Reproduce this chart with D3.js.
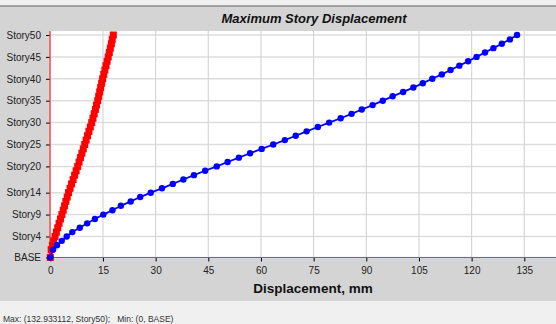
<!DOCTYPE html>
<html>
<head>
<meta charset="utf-8">
<style>
  body { margin: 0; background: #f0f0f0; }
  svg { display: block; font-family: "Liberation Sans", Arial, sans-serif; }
</style>
</head>
<body>
<svg width="556" height="324"></svg>
<script src="https://d3js.org/d3.v7.min.js"></script>
<script>
// story elevations (BASE .. Story50), first story taller
const storyNames = d3.range(0, 51).map(i => i === 0 ? "BASE" : "Story" + i);
const elevations = [0, 5.4, 8.4, 11.4, 14.4, 17.4, 20.4, 23.4, 26.4, 29.4, 32.4,
  35.4, 38.4, 41.4, 44.4, 47.4, 50.4, 53.4, 56.4, 59.4, 62.4,
  65.4, 68.4, 71.4, 74.4, 77.4, 80.4, 83.4, 86.4, 89.4, 92.4,
  95.4, 98.4, 101.4, 104.4, 107.4, 110.4, 113.4, 116.4, 119.4, 122.4,
  125.4, 128.4, 131.4, 134.4, 137.4, 140.4, 143.4, 146.4, 149.4, 152.4];

// displacement, mm (blue series)
const dispBlue = [0, 0.8, 1.9, 3.25, 4.67, 6.27, 8.4, 10.5, 12.7, 15.1, 17.7,
  20.1, 22.9, 25.6, 28.6, 31.8, 34.9, 37.9, 40.9, 44.1, 47.4,
  50.5, 53.7, 56.9, 60.2, 63.5, 66.8, 69.9, 73.0, 76.2, 79.4,
  82.7, 85.8, 88.7, 91.8, 94.7, 97.5, 100.5, 103.4, 106.1, 108.8,
  111.5, 114.0, 116.5, 119.0, 121.4, 123.8, 126.2, 128.6, 130.9, 132.933112];

// displacement, mm (red series)
const dispRed = [0, 0.25, 0.6, 0.95, 1.35, 1.73, 2.12, 2.5, 2.9, 3.3, 3.68,
  4.06, 4.44, 4.82, 5.2, 5.63, 6.06, 6.5, 6.93, 7.36, 7.8,
  8.2, 8.6, 9.0, 9.4, 9.8, 10.2, 10.6, 11.0, 11.4, 11.8,
  12.15, 12.5, 12.85, 13.15, 13.5, 13.78, 14.06, 14.34, 14.62, 14.9,
  15.22, 15.54, 15.86, 16.18, 16.5, 16.8, 17.1, 17.4, 17.65, 17.95];

const yTickStories = [0, 4, 9, 14, 20, 25, 30, 35, 40, 45, 50];
const xTicks = [0, 15, 30, 45, 60, 75, 90, 105, 120, 135];

const svg = d3.select("svg");
const W = 556, H = 324;
const plot = { left: 50, top: 31, right: 556, bottom: 257.5 };

const x = d3.scaleLinear().domain([0, 135]).range([50.3, 524.3]);
const y = d3.scaleLinear().domain([0, 152.4]).range([257.5, 35]);

// background bands
svg.append("rect").attr("width", W).attr("height", H).attr("fill", "#f0f0f0");
svg.append("rect").attr("x", 0).attr("y", 6).attr("width", W).attr("height", 295).attr("fill", "#d4d4d4");
svg.append("line").attr("x1", 0).attr("x2", W).attr("y1", 6).attr("y2", 6)
  .attr("stroke", "#8c8c8c").attr("stroke-width", 1.5);
svg.append("rect").attr("x", plot.left).attr("y", plot.top)
  .attr("width", plot.right - plot.left).attr("height", plot.bottom - plot.top).attr("fill", "#fff");

// grid
svg.append("g").selectAll("line").data(yTickStories).join("line")
  .attr("x1", plot.left).attr("x2", plot.right)
  .attr("y1", d => y(elevations[d])).attr("y2", d => y(elevations[d]))
  .attr("stroke", "#dddddd").attr("stroke-width", 1.5);
svg.append("g").selectAll("line").data(xTicks).join("line")
  .attr("x1", d => x(d)).attr("x2", d => x(d))
  .attr("y1", plot.top).attr("y2", plot.bottom)
  .attr("stroke", "#d6d6d6").attr("stroke-width", 1.2);

// axes
const xAxis = svg.append("g").attr("transform", `translate(0,${plot.bottom})`)
  .call(d3.axisBottom(x).tickValues(xTicks).tickSize(4).tickPadding(5));
xAxis.select(".domain").remove();
const yAxis = svg.append("g").attr("transform", `translate(${plot.left},0)`)
  .call(d3.axisLeft(y).tickValues(yTickStories.map(i => elevations[i]))
    .tickFormat((d, i) => storyNames[yTickStories[i]]).tickSize(4).tickPadding(5));
yAxis.select(".domain").remove();
svg.selectAll(".tick line").attr("stroke", "#000");
svg.selectAll(".tick text").attr("fill", "#222").style("font-size", "10px")
  .style("font-family", "'Liberation Sans', Arial, sans-serif");

svg.append("line").attr("x1", plot.left).attr("x2", plot.right)
  .attr("y1", plot.bottom).attr("y2", plot.bottom).attr("stroke", "#ff3030").attr("stroke-width", 1.2);
svg.append("line").attr("x1", plot.left).attr("x2", plot.left)
  .attr("y1", plot.top).attr("y2", plot.bottom).attr("stroke", "#ff3030").attr("stroke-width", 1.2);

// series
const redPts = dispRed.map((v, i) => [x(v), y(elevations[i])]);
const bluePts = dispBlue.map((v, i) => [x(v), y(elevations[i])]);
const line = d3.line();

svg.append("path").attr("d", line(redPts)).attr("fill", "none")
  .attr("stroke", "#ff0000").attr("stroke-width", 3);
svg.append("g").selectAll("rect").data(redPts).join("rect")
  .attr("x", d => d[0] - 3.5).attr("y", d => d[1] - 3.5)
  .attr("width", 7).attr("height", 7).attr("fill", "#ff0000");

svg.append("path").attr("d", line(bluePts)).attr("fill", "none")
  .attr("stroke", "#0000ff").attr("stroke-width", 1.8);
svg.append("g").selectAll("circle").data(bluePts).join("circle")
  .attr("cx", d => d[0]).attr("cy", d => d[1]).attr("r", 3.2).attr("fill", "#0000ff");

// titles
svg.append("text").attr("x", 314).attr("y", 23).attr("text-anchor", "middle")
  .style("font-size", "13px").style("font-weight", "bold").style("font-style", "italic")
  .attr("fill", "#111").text("Maximum Story Displacement");
svg.append("text").attr("x", 313).attr("y", 293).attr("text-anchor", "middle")
  .style("font-size", "13.5px").style("font-weight", "bold")
  .attr("fill", "#111").text("Displacement, mm");
svg.append("text").attr("x", 3).attr("y", 322)
  .style("font-size", "8.5px").attr("fill", "#333")
  .text("Max: (132.933112, Story50);\u00a0\u00a0\u00a0Min: (0, BASE)");
</script>
</body>
</html>
